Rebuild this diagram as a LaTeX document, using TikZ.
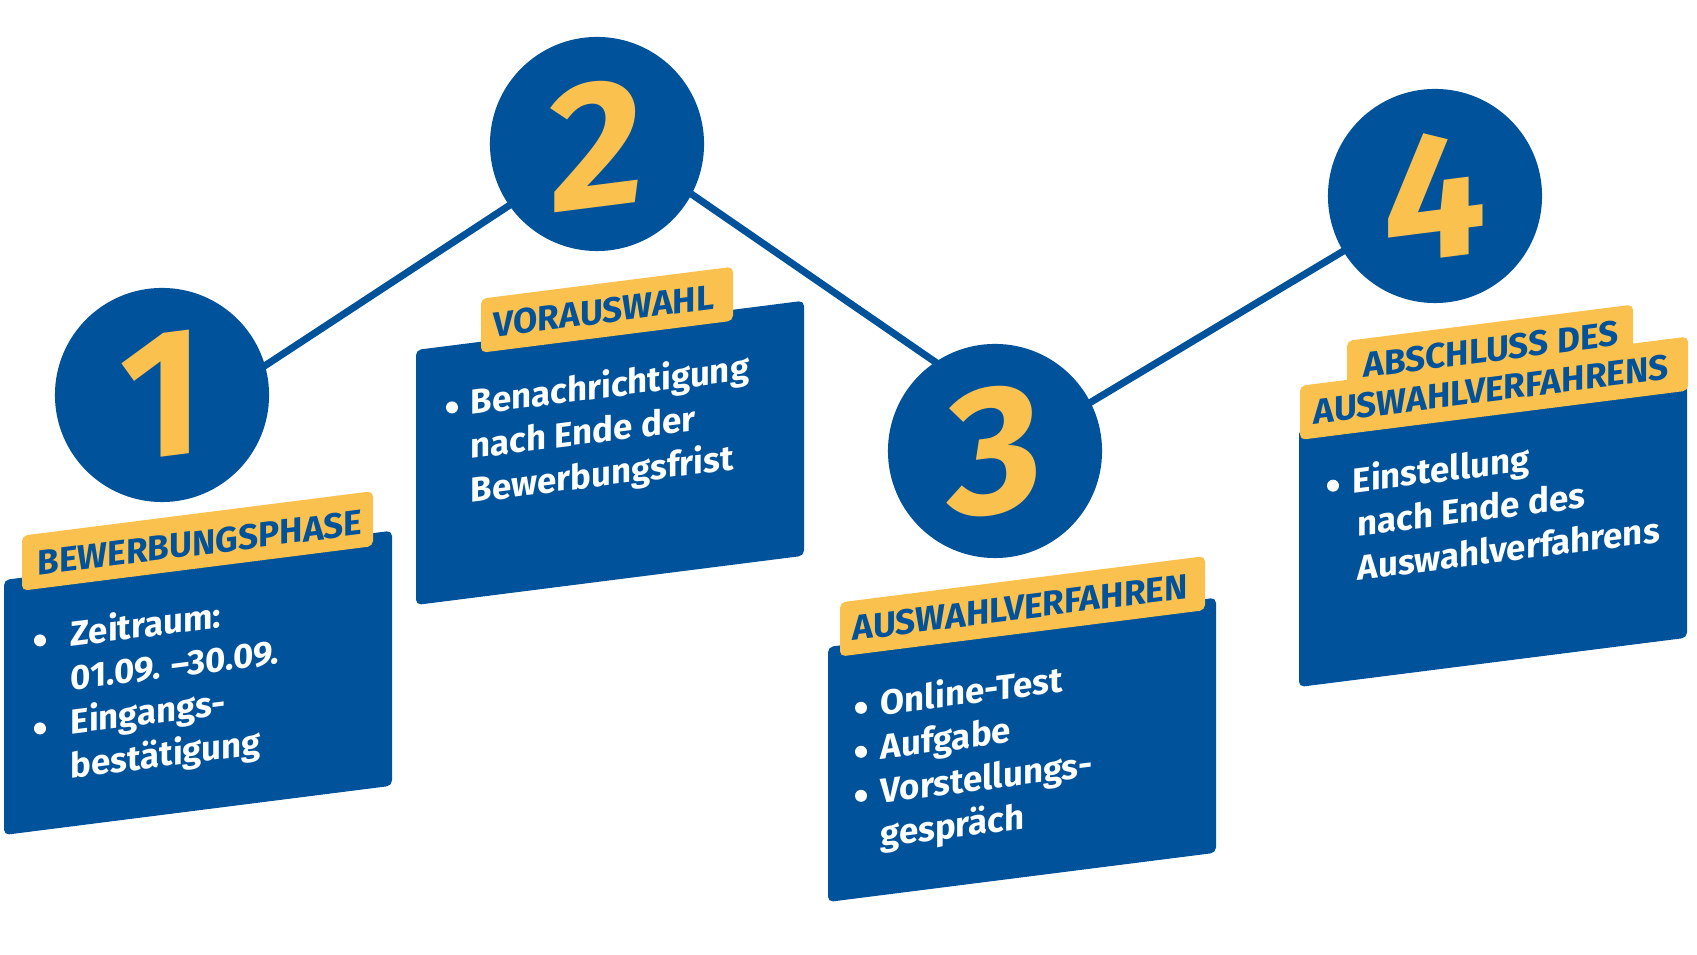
\documentclass[tikz,border=0pt]{standalone}
\usepackage{fontspec}
\setmainfont{Fira Sans}
\usetikzlibrary{backgrounds}
\definecolor{stepblue}{RGB}{0,82,155}
\definecolor{stepyellow}{RGB}{251,193,79}

\begin{document}
\begin{tikzpicture}[x=0.01cm, y=0.01cm,
  card/.style = {fill=stepblue, rounded corners=1.5pt},
  tag/.style = {fill=stepyellow, rounded corners=1.5pt},
  tagtext/.style = {anchor=base west, inner sep=0pt, align=left, transform shape, text=stepblue, font=\fontsize{10}{11.4}\bfseries},
  itemtext/.style = {anchor=base west, inner sep=0pt, align=left, transform shape, text=white, font=\fontsize{9.9}{12.5}\bfseries},
  bullet/.style = {circle, fill=white, minimum size=0.12cm, inner sep=0pt},
  dot/.style = {circle, fill=stepblue, minimum size=2.14cm, inner sep=0pt},
  digit/.style = {yslant=0.127, inner sep=0pt, text=stepyellow, font=\fontsize{52}{52}\bfseries},
  link/.style = {draw=stepblue, line width=2pt, shorten <=-4pt, shorten >=-4pt}]
  \useasboundingbox (0,0) rectangle (1697,955);

  % circles and numbers
  \node[dot] (c1) at (162,560) {};
  \node[dot] (c2) at (597,811) {};
  \node[dot] (c3) at (995,504) {};
  \node[dot] (c4) at (1435,759) {};
  \node[digit] (n1) at (c1) {1};
  \node[digit] (n2) at (c2) {2};
  \node[digit] (n3) at (c3) {3};
  \node[digit] (n4) at (c4) {4};
  \begin{pgfonlayer}{background}
    \draw[link] (c1.16) -- (c2.215);
    \draw[link] (c2.-28) -- (c3.124);
    \draw[link] (c3.27) -- (c4.211);
  \end{pgfonlayer}

  % step 1 (base of a text block = its last line)
  \begin{scope}[shift={(4,120)}, yslant=0.127]
    \fill[card] (0,0) rectangle (388,255);
    \fill[tag] (18,242) rectangle (369,297);
    \node[tagtext] (t1) at (33,255) {BEWERBUNGSPHASE};
    \node[bullet] (d1a) at (36,190) {};
    \node[bullet] (d1b) at (36,102) {};
    \node[itemtext] (l1) at (66,48.3) {Zeitraum:\\01.09. –30.09.\\Eingangs-\\bestätigung};
  \end{scope}

  % step 2
  \begin{scope}[shift={(416,350)}, yslant=0.127]
    \fill[card] (0,0) rectangle (388,255);
    \fill[tag] (65,244) rectangle (317,298);
    \node[tagtext] (t2) at (77,258) {VORAUSWAHL};
    \node[bullet] (d2a) at (36,193) {};
    \node[itemtext] (l2) at (54,95.2) {Benachrichtigung\\nach Ende der\\Bewerbungsfrist};
  \end{scope}

  % step 3
  \begin{scope}[shift={(828,53)}, yslant=0.127]
    \fill[card] (0,0) rectangle (388,255);
    \fill[tag] (12,244) rectangle (377,298);
    \node[tagtext] (t3) at (24,258) {AUSWAHLVERFAHREN};
    \node[bullet] (d3a) at (33,190) {};
    \node[bullet] (d3b) at (33,146) {};
    \node[bullet] (d3c) at (33,102) {};
    \node[itemtext] (l3) at (52,48.3) {Online-Test\\Aufgabe\\Vorstellungs-\\gespräch};
  \end{scope}

  % step 4
  \begin{scope}[shift={(1299,268)}, yslant=0.127]
    \fill[card] (0,0) rectangle (388,258);
    \fill[tag] (48,280) rectangle (334,340);
    \fill[tag] (1,247) rectangle (389,301);
    \node[tagtext] (t4) at (14,261) {\hspace*{14.2pt}ABSCHLUSS DES\\AUSWAHLVERFAHRENS};
    \node[bullet] (d4a) at (34,197) {};
    \node[itemtext] (l4) at (53,99.2) {Einstellung\\\hspace*{1.4pt}nach Ende des\\\hspace*{1.4pt}Auswahlverfahrens};
  \end{scope}
\end{tikzpicture}
\end{document}
